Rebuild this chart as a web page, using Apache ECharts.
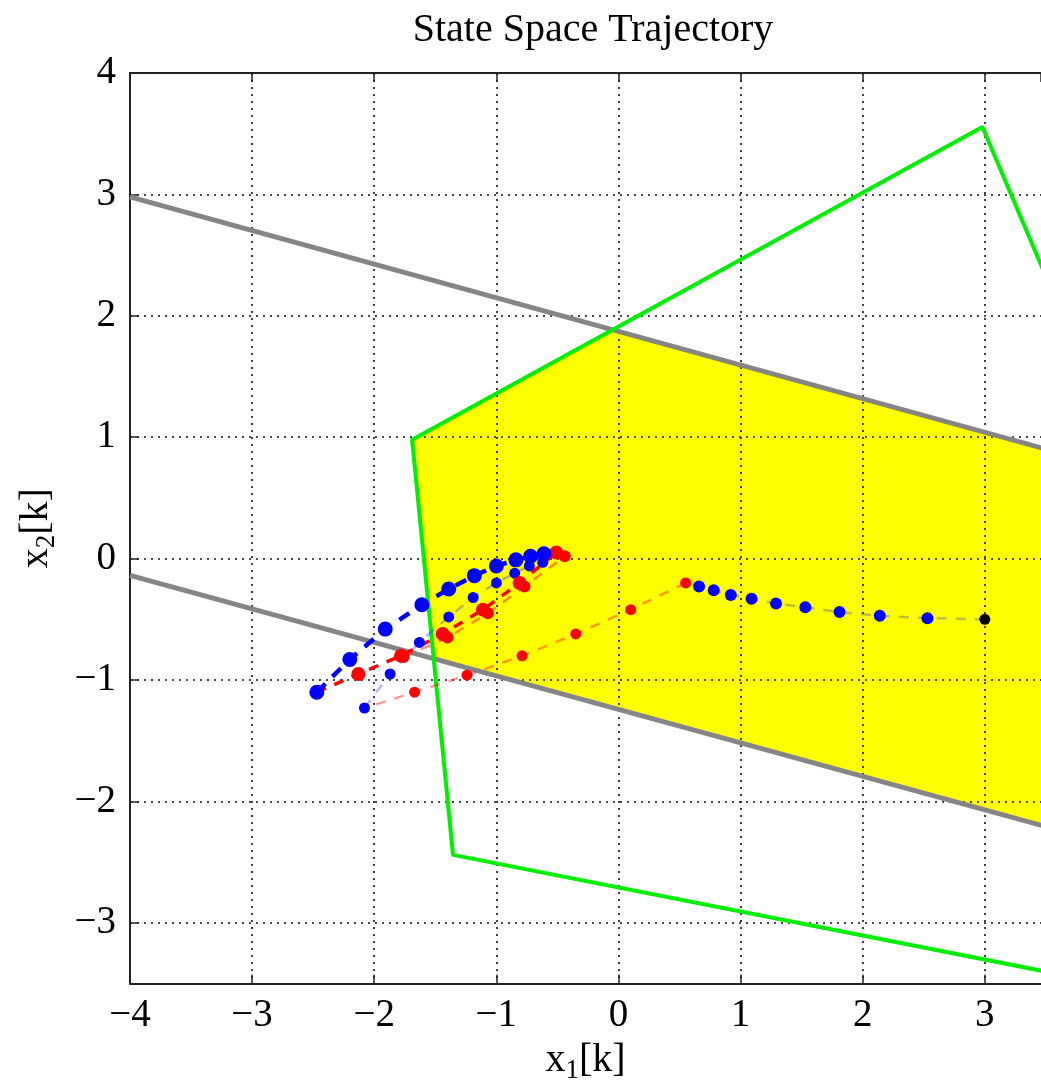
<!DOCTYPE html>
<html>
<head>
<meta charset="utf-8">
<script src="https://cdn.jsdelivr.net/npm/echarts@6/dist/echarts.min.js"></script>
<style>
html,body{margin:0;padding:0;background:#fff;}
#main{width:1041px;height:1089px;}
</style>
</head>
<body>
<div id="main"></div>
<script>
var chartDom = document.getElementById('main');
var myChart = echarts.init(chartDom);
var option;

// polygon / constraint lines
var greenLine = [[4.0, 1.14], [2.98, 3.556], [-1.69, 0.98], [-1.355, -2.44], [4.0, -3.50]];
var grayUpper = [[-4, 2.98], [4, 0.764]];
var grayLower = [[-4, -0.137], [4, -2.345]];
var yellowRegion = [[-1.69, 0.98], [-0.048, 1.885], [4, 0.764], [4, -2.345], [-1.513, -0.822]];

// trajectories
var blueThick = [[-2.47, -1.10], [-2.20, -0.83], [-1.91, -0.58], [-1.61, -0.38], [-1.39, -0.25],
                 [-1.18, -0.14], [-1.00, -0.06], [-0.84, -0.01], [-0.72, 0.02], [-0.61, 0.04]];
var redThick = [[-2.47, -1.10], [-2.13, -0.95], [-1.78, -0.80], [-1.44, -0.62], [-1.11, -0.42],
                [-0.81, -0.20], [-0.51, 0.05]];
var redThin = [[-1.76, -0.81], [-1.40, -0.65], [-1.07, -0.45], [-0.77, -0.23], [-0.44, 0.02]];
var blueThin = [[-2.08, -1.23], [-1.87, -0.95], [-1.63, -0.69], [-1.39, -0.48], [-1.19, -0.32],
                [-1.00, -0.20], [-0.85, -0.12], [-0.73, -0.06], [-0.62, -0.03]];
var startPoint = [[3.0, -0.5]];
var blueLong = [[2.53, -0.49], [2.14, -0.47], [1.81, -0.44], [1.53, -0.40], [1.29, -0.37],
                [1.09, -0.33], [0.92, -0.30], [0.78, -0.26], [0.66, -0.23]];
var redLong = [[0.55, -0.20], [0.10, -0.42], [-0.35, -0.62], [-0.79, -0.80], [-1.24, -0.96], [-1.67, -1.10]];

var font = 'Liberation Serif';
function fmt(v) {
  return v < 0 ? '\u2212' + Math.abs(v) : String(v);
}

function lineSeries(data, color, width, dash, z) {
  return {
    type: 'line', data: data, showSymbol: false, symbol: 'none', clip: true,
    lineStyle: {color: color, width: width, type: dash}, z: z, silent: true, animation: false
  };
}
function dots(data, color, size, z) {
  return {
    type: 'scatter', data: data, symbolSize: size, itemStyle: {color: color, opacity: 1},
    z: z, silent: true, animation: false
  };
}

option = {
  animation: false,
  backgroundColor: '#fff',
  title: {
    text: 'State Space Trajectory',
    left: 588, top: 5, textAlign: 'center',
    textStyle: {fontFamily: font, fontSize: 40, fontWeight: 'normal', color: '#000'}
  },
  grid: {left: 130, top: 73, right: 0, bottom: 102, containLabel: false},
  xAxis: [{
    type: 'value', min: -4, max: 3.46, interval: 1, position: 'bottom',
    name: 'x{sub|1}[k]', nameLocation: 'middle', nameGap: 45,
    nameTextStyle: {
      fontFamily: font, fontSize: 40, color: '#000',
      rich: {sub: {fontFamily: font, fontSize: 27, color: '#000', padding: [20, 0, 0, 0]}}
    },
    axisLine: {show: true, onZero: false, lineStyle: {color: '#222', width: 2}},
    axisTick: {show: true, inside: true, length: 9, lineStyle: {color: '#222', width: 1.5}},
    axisLabel: {fontFamily: font, fontSize: 39, color: '#000', margin: 13, showMaxLabel: false, formatter: fmt},
    splitLine: {show: true, showMinLine: false, showMaxLine: false, lineStyle: {color: '#111', width: 1.6, type: [2, 5]}}
  }, {
    type: 'value', min: -4, max: 3.46, interval: 1, position: 'top',
    axisLine: {show: true, onZero: false, lineStyle: {color: '#222', width: 2}},
    axisTick: {show: true, inside: true, length: 9, lineStyle: {color: '#222', width: 1.5}},
    axisLabel: {show: false},
    splitLine: {show: false}
  }],
  yAxis: {
    type: 'value', min: -3.5, max: 4, splitNumber: 8,
    name: 'x{sub|2}[k]', nameLocation: 'middle', nameGap: 70, nameRotate: 90,
    nameTextStyle: {
      fontFamily: font, fontSize: 40, color: '#000',
      rich: {sub: {fontFamily: font, fontSize: 27, color: '#000', padding: [20, 0, 0, 0]}}
    },
    axisLine: {show: true, onZero: false, lineStyle: {color: '#222', width: 2}},
    axisTick: {show: true, inside: true, length: 9, lineStyle: {color: '#222', width: 1.5}},
    axisLabel: {fontFamily: font, fontSize: 39, color: '#000', margin: 14, showMinLabel: false, formatter: fmt},
    splitLine: {show: true, showMinLine: false, showMaxLine: false, lineStyle: {color: '#111', width: 1.6, type: [2, 5]}}
  },
  series: [
    {
      type: 'custom', clip: true, z: -1, silent: true, data: [0],
      renderItem: function (params, api) {
        var pts = yellowRegion.map(function (p) { return api.coord(p); });
        return {type: 'polygon', shape: {points: pts}, style: {fill: '#ffff00'}};
      }
    },
    lineSeries(grayUpper, '#858585', 5, 'solid', 3),
    lineSeries(grayLower, '#858585', 5, 'solid', 3),
    lineSeries(greenLine, '#00ee00', 4, 'solid', 3),
    lineSeries(startPoint.concat(blueLong).concat([redLong[0]]), 'rgba(40,40,200,0.3)', 2.5, [10, 9], 4),
    lineSeries(redLong.concat([blueThin[0]]), 'rgba(255,0,0,0.4)', 2.5, [10, 9], 4),
    lineSeries(blueThin, 'rgba(40,40,255,0.35)', 2.5, [10, 9], 4),
    lineSeries(redThin, 'rgba(255,0,0,0.45)', 2.5, [10, 9], 4),
    lineSeries(redThick, '#ff0000', 3.5, [10, 9], 5),
    lineSeries(blueThick, '#0000ff', 4.5, [12, 10], 5),
    dots(blueLong, '#0000ff', 12, 6),
    dots(startPoint, '#000000', 11, 6),
    dots(redLong, '#ff0000', 11, 6),
    dots(blueThin, '#0000ff', 11, 6),
    dots(redThin, '#ff0000', 12, 6),
    dots(redThick, '#ff0000', 14, 7),
    dots(blueThick, '#0000ff', 15, 7)
  ]
};

myChart.setOption(option);
</script>
</body>
</html>
